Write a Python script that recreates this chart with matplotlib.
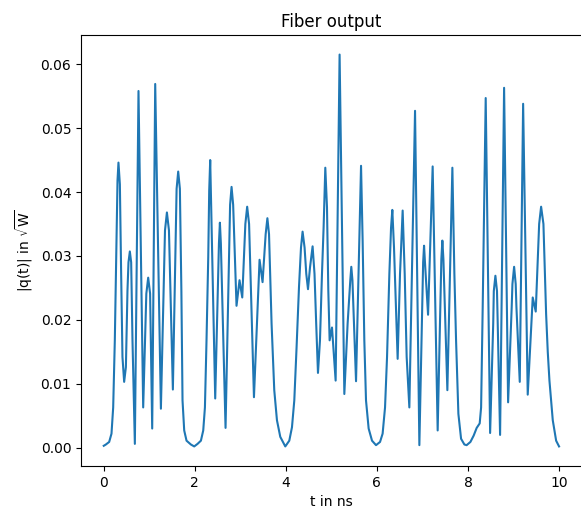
import matplotlib
matplotlib.use("Agg")
import matplotlib.pyplot as plt

# Time samples (ns) and magnitude |q(t)| (sqrt W) of the fiber output signal
t_ns = [
    0.000, 0.046, 0.119, 0.170, 0.207, 0.243, 0.280, 0.302, 0.323, 0.354, 0.382, 0.411,
    0.448, 0.486, 0.521, 0.543, 0.573, 0.602, 0.631, 0.683, 0.763, 0.866, 0.935, 0.976,
    1.018, 1.064, 1.130, 1.255, 1.345, 1.387, 1.432, 1.518, 1.600, 1.635, 1.672, 1.705,
    1.730, 1.767, 1.818, 1.914, 1.987, 2.060, 2.134, 2.185, 2.222, 2.257, 2.295, 2.316,
    2.338, 2.448, 2.530, 2.551, 2.572, 2.675, 2.775, 2.807, 2.842, 2.916, 2.982, 3.042,
    3.110, 3.150, 3.192, 3.299, 3.422, 3.488, 3.556, 3.594, 3.630, 3.686, 3.745, 3.804,
    3.877, 3.987, 4.075, 4.134, 4.185, 4.235, 4.288, 4.332, 4.367, 4.411, 4.448, 4.486,
    4.530, 4.587, 4.629, 4.666, 4.705, 4.749, 4.793, 4.829, 4.866, 4.903, 4.932, 4.961,
    5.013, 5.093, 5.180, 5.284, 5.356, 5.415, 5.437, 5.462, 5.541, 5.651, 5.686, 5.723,
    5.760, 5.818, 5.892, 5.980, 6.068, 6.125, 6.178, 6.222, 6.273, 6.310, 6.338, 6.375,
    6.455, 6.507, 6.565, 6.610, 6.653, 6.712, 6.837, 6.932, 7.015, 7.035, 7.055, 7.123,
    7.224, 7.334, 7.415, 7.437, 7.460, 7.547, 7.657, 7.701, 7.738, 7.789, 7.848, 7.921,
    7.970, 8.053, 8.125, 8.191, 8.257, 8.288, 8.323, 8.389, 8.486, 8.554, 8.567, 8.602,
    8.637, 8.653, 8.705, 8.793, 8.881, 8.960, 8.976, 9.013, 9.048, 9.064, 9.137, 9.211,
    9.312, 9.422, 9.488, 9.563, 9.606, 9.657, 9.716, 9.752, 9.789, 9.862, 9.936, 10.000,
]
q_abs = [
    0.0003, 0.0005, 0.0009, 0.0022, 0.0063, 0.0168, 0.0324, 0.0418, 0.0446, 0.0412, 0.0272, 0.0142,
    0.0103, 0.0126, 0.0246, 0.0290, 0.0307, 0.0290, 0.0168, 0.0006, 0.0558, 0.0063, 0.0241, 0.0266,
    0.0241, 0.0030, 0.0569, 0.0061, 0.0340, 0.0368, 0.0340, 0.0091, 0.0405, 0.0432, 0.0405, 0.0245,
    0.0074, 0.0027, 0.0011, 0.0005, 0.0002, 0.0006, 0.0011, 0.0027, 0.0063, 0.0168, 0.0298, 0.0402,
    0.0450, 0.0077, 0.0320, 0.0352, 0.0320, 0.0031, 0.0380, 0.0408, 0.0380, 0.0222, 0.0262, 0.0235,
    0.0350, 0.0377, 0.0350, 0.0079, 0.0294, 0.0259, 0.0334, 0.0359, 0.0334, 0.0194, 0.0090, 0.0043,
    0.0017, 0.0002, 0.0011, 0.0032, 0.0074, 0.0157, 0.0251, 0.0313, 0.0338, 0.0313, 0.0272, 0.0248,
    0.0282, 0.0315, 0.0272, 0.0194, 0.0117, 0.0168, 0.0272, 0.0345, 0.0438, 0.0376, 0.0246, 0.0168,
    0.0188, 0.0105, 0.0615, 0.0084, 0.0194, 0.0262, 0.0283, 0.0262, 0.0104, 0.0441, 0.0324, 0.0168,
    0.0074, 0.0030, 0.0011, 0.0004, 0.0009, 0.0022, 0.0063, 0.0142, 0.0272, 0.0344, 0.0372, 0.0313,
    0.0139, 0.0272, 0.0371, 0.0272, 0.0142, 0.0063, 0.0527, 0.0004, 0.0290, 0.0316, 0.0290, 0.0208,
    0.0440, 0.0027, 0.0295, 0.0324, 0.0295, 0.0090, 0.0438, 0.0272, 0.0168, 0.0053, 0.0014, 0.0005,
    0.0004, 0.0009, 0.0019, 0.0031, 0.0038, 0.0063, 0.0220, 0.0547, 0.0023, 0.0194, 0.0245, 0.0269,
    0.0245, 0.0194, 0.0020, 0.0563, 0.0071, 0.0220, 0.0256, 0.0283, 0.0256, 0.0220, 0.0103, 0.0538,
    0.0083, 0.0235, 0.0213, 0.0350, 0.0377, 0.0350, 0.0209, 0.0150, 0.0105, 0.0043, 0.0011, 0.0002,
]

fig = plt.figure(figsize=(5.81, 5.15), dpi=100)
ax = fig.add_axes([0.1394, 0.0951, 0.862, 0.837])
ax.plot(t_ns, q_abs, color="C0", linewidth=1.5, solid_joinstyle="round")
ax.set_title("Fiber output")
ax.set_xlabel("t in ns")
ax.set_ylabel(r"|q(t)| in $\sqrt{\mathrm{W}}$")
fig.savefig("out.png", dpi=100)
